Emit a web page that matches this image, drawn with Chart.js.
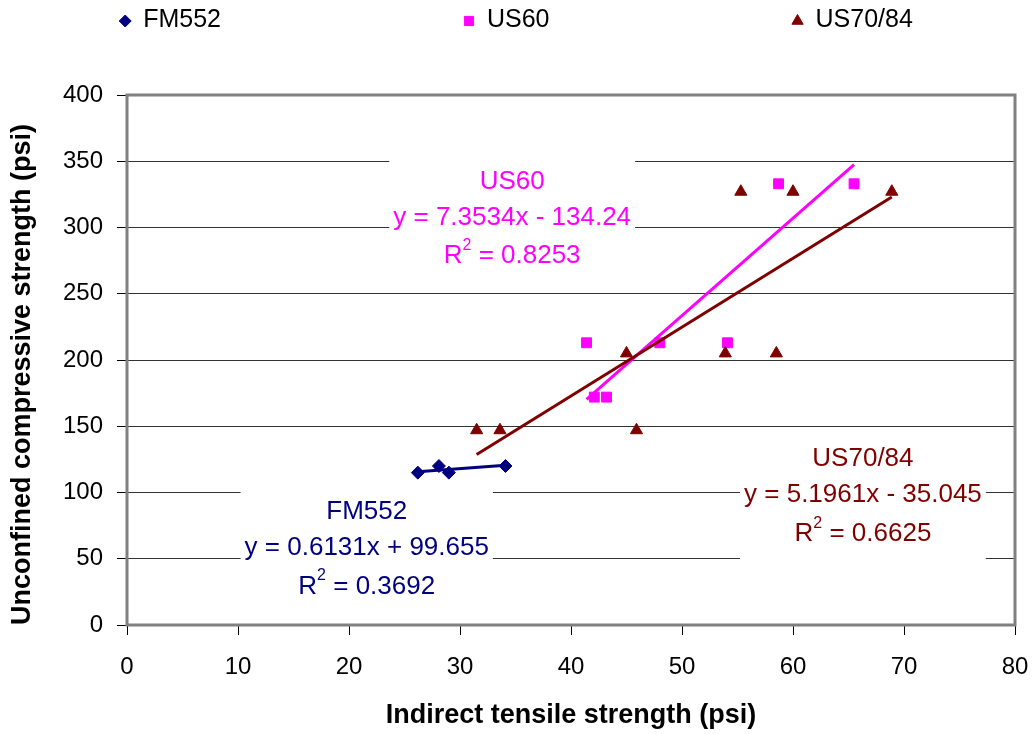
<!DOCTYPE html>
<html>
<head>
<meta charset="utf-8">
<title>Unconfined compressive vs indirect tensile strength</title>
<script src="https://cdn.jsdelivr.net/npm/chart.js@4.4.1/dist/chart.umd.min.js"></script>
<style>
    html, body { margin: 0; padding: 0; background: #fff; }
    #wrap { width: 1032px; height: 734px; }
</style>
</head>
<body>
<div id="wrap"><canvas id="strengthChart" width="1032" height="734"></canvas></div>
<script>
// Values
const seriesNames = ['FM552', 'US60', 'US70/84'];

const fmX = [26.2, 28.1, 29.0, 34.1];
const fmY = [115, 120, 115, 120];

const us60X = [41.4, 42.1, 43.2, 48.0, 54.1, 58.7, 65.5];
const us60Y = [213, 172, 172, 213, 213, 333, 333];

const us70X = [31.5, 33.6, 45.0, 45.9, 53.9, 55.3, 58.5, 60.0, 68.9];
const us70Y = [147, 147, 205, 147, 205, 327, 205, 327, 327];

// linear trendlines as printed on the chart
const trendSlopes = [0.6131, 7.3534, 5.1961];
const trendIntercepts = [99.655, -134.24, -35.045];
const trendR2 = ['0.3692', '0.8253', '0.6625'];

const xTicks = [0, 10, 20, 30, 40, 50, 60, 70, 80];
const yTicks = [0, 50, 100, 150, 200, 250, 300, 350, 400];

// styling
const FONT = '"Liberation Sans", Arial, Helvetica, sans-serif';
const colors = ['#000080', '#FF00FF', '#800000'];
const pointStyles = ['rectRot', 'rect', 'triangle'];
const pointSizes = [6.5, 7, 7];
// where each equation label sits (data units: centre x, first line y)
const labelAnchors = [
    { x: 21.6, y: 85.4 },
    { x: 34.7, y: 334.6 },
    { x: 66.3, y: 125.1 }
];

const xsList = [fmX, us60X, us70X];
const ysList = [fmY, us60Y, us70Y];

function toPoints(xs, ys) {
    return xs.map((x, i) => ({ x: x, y: ys[i] }));
}

function trendPoints(xs, k) {
    const lo = Math.min(...xs);
    const hi = Math.max(...xs);
    return [
        { x: lo, y: trendSlopes[k] * lo + trendIntercepts[k] },
        { x: hi, y: trendSlopes[k] * hi + trendIntercepts[k] }
    ];
}

function equationText(k) {
    const b = trendIntercepts[k];
    return 'y = ' + trendSlopes[k] + 'x ' + (b < 0 ? '- ' : '+ ') + Math.abs(b);
}

const datasets = [];
seriesNames.forEach((name, k) => {
    datasets.push({
        label: name,
        data: toPoints(xsList[k], ysList[k]),
        pointStyle: pointStyles[k],
        pointRadius: pointSizes[k],
        pointHoverRadius: pointSizes[k],
        backgroundColor: colors[k],
        borderColor: colors[k],
        borderWidth: 1,
        order: 10 - k
    });
});
seriesNames.forEach((name, k) => {
    datasets.push({
        label: name + ' trend',
        data: trendPoints(xsList[k], k),
        showLine: true,
        pointRadius: 0,
        pointHoverRadius: 0,
        borderColor: colors[k],
        backgroundColor: colors[k],
        borderWidth: 3,
        order: 3 - k
    });
});

// white label boxes with the regression equations, plus the grey plot frame
const plotFrame = {
    id: 'plotFrame',
    beforeDatasetsDraw(chart) {
        const { ctx, chartArea: a, scales } = chart;
        ctx.save();
        const lineOffsets = [0, 36, 74.5];
        seriesNames.forEach((name, k) => {
            const cx = scales.x.getPixelForValue(labelAnchors[k].x);
            const cy = scales.y.getPixelForValue(labelAnchors[k].y);
            ctx.font = '26px ' + FONT;
            const eq = equationText(k);
            const rest = ' = ' + trendR2[k];
            const wR = ctx.measureText('R').width;
            const wRest = ctx.measureText(rest).width;
            ctx.font = '16px ' + FONT;
            const wSup = ctx.measureText('2').width;
            ctx.font = '26px ' + FONT;
            const wMax = Math.max(ctx.measureText(name).width, ctx.measureText(eq).width, wR + wSup + wRest);

            ctx.fillStyle = '#fff';
            ctx.fillRect(cx - wMax / 2 - 4, cy - 26, wMax + 8, lineOffsets[2] + 54);

            ctx.fillStyle = colors[k];
            ctx.textBaseline = 'middle';
            ctx.textAlign = 'center';
            ctx.fillText(name, cx, cy + lineOffsets[0]);
            ctx.fillText(eq, cx, cy + lineOffsets[1]);

            const rowY = cy + lineOffsets[2];
            let x0 = cx - (wR + wSup + wRest) / 2;
            ctx.textAlign = 'left';
            ctx.fillText('R', x0, rowY);
            ctx.font = '16px ' + FONT;
            ctx.fillText('2', x0 + wR, rowY - 10.5);
            ctx.font = '26px ' + FONT;
            ctx.fillText(rest, x0 + wR + wSup, rowY);
        });

        ctx.strokeStyle = '#808080';
        ctx.lineWidth = 3;
        ctx.strokeRect(a.left, a.top, a.right - a.left, a.bottom - a.top);
        ctx.restore();
    }
};

// legend spread across the top like the original
const topLegend = {
    id: 'topLegend',
    afterDraw(chart) {
        const ctx = chart.ctx;
        ctx.save();
        ctx.font = '25px ' + FONT;
        const gap = 242;
        const markGap = 18;
        const widths = seriesNames.map(n => 6 + markGap + ctx.measureText(n).width);
        const total = widths.reduce((s, w) => s + w, 0) + gap * (widths.length - 1);
        let x = chart.width / 2 - total / 2;
        seriesNames.forEach((n, k) => {
            const cx = x + 6;
            ctx.fillStyle = colors[k];
            ctx.strokeStyle = colors[k];
            ctx.lineWidth = 1;
            Chart.helpers.drawPoint(ctx, {
                pointStyle: pointStyles[k],
                radius: pointSizes[k] - 0.5,
                rotation: 0,
                borderWidth: 1
            }, cx, 21);
            ctx.fillStyle = '#000';
            ctx.textAlign = 'left';
            ctx.textBaseline = 'middle';
            ctx.fillText(n, cx + markGap, 20);
            x += widths[k] + gap;
        });
        ctx.restore();
    }
};

Chart.defaults.font.family = FONT;

new Chart(document.getElementById('strengthChart').getContext('2d'), {
    type: 'scatter',
    data: { datasets: datasets },
    options: {
        responsive: false,
        animation: false,
        layout: { padding: { top: 95, right: 0, bottom: 0, left: 0 } },
        plugins: {
            legend: { display: false },
            tooltip: { enabled: false }
        },
        scales: {
            x: {
                type: 'linear',
                min: xTicks[0],
                max: xTicks[xTicks.length - 1],
                ticks: {
                    stepSize: xTicks[1] - xTicks[0],
                    color: '#000',
                    font: { size: 24 },
                    padding: 18,
                    maxRotation: 0
                },
                grid: {
                    drawOnChartArea: false,
                    drawTicks: true,
                    tickLength: 10,
                    tickColor: '#000'
                },
                border: { display: false },
                title: {
                    display: true,
                    text: 'Indirect tensile strength (psi)',
                    color: '#000',
                    font: { size: 27, weight: 'bold' },
                    padding: { top: 0, bottom: 2 }
                },
                afterFit(scale) {
                    scale.height = 109;
                    scale.paddingRight = 17;
                }
            },
            y: {
                type: 'linear',
                min: yTicks[0],
                max: yTicks[yTicks.length - 1],
                ticks: {
                    stepSize: yTicks[1] - yTicks[0],
                    color: '#000',
                    font: { size: 24 },
                    padding: 14
                },
                grid: {
                    color: '#333',
                    lineWidth: 1,
                    drawTicks: true,
                    tickLength: 10,
                    tickColor: '#000'
                },
                border: { display: false },
                title: {
                    display: true,
                    text: 'Unconfined compressive strength (psi)',
                    align: 'start',
                    color: '#000',
                    font: { size: 27, weight: 'bold' },
                    padding: { top: 6, bottom: 0 }
                },
                afterFit(scale) { scale.width = 127; }
            }
        }
    },
    plugins: [plotFrame, topLegend]
});
</script>
</body>
</html>
